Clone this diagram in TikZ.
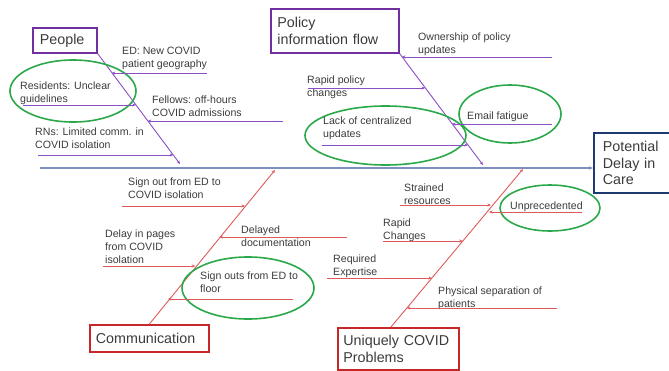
\documentclass[tikz,border=0pt]{standalone}
\usepackage{fontspec}
\setmainfont{Liberation Sans}
\usetikzlibrary{arrows.meta,shapes.geometric}
\definecolor{purp}{HTML}{7030A0}
\definecolor{purpl}{HTML}{8A4FC4}
\definecolor{redb}{HTML}{C62828}
\definecolor{redl}{HTML}{DE5A5A}
\definecolor{navy}{HTML}{1F3A70}
\definecolor{spinec}{HTML}{7F8DC0}
\definecolor{grn}{HTML}{2BA84A}
\definecolor{txt}{HTML}{3B3B3B}
\begin{document}
\begin{tikzpicture}[x=1pt,y=-1pt,
  lbl/.style={font=\fontsize{10.6}{13}\selectfont, text=txt, inner sep=0pt, anchor=north west, align=left},
  tbox/.style={draw, line width=1.8pt, font=\fontsize{14.3}{16.8}\selectfont, text=txt, align=left, anchor=north west, inner ysep=0pt},
  tip/.style={-{Stealth[length=3.5pt,width=3pt]}},
  pline/.style={purpl, line width=0.8pt, tip},
  rline/.style={redl, line width=0.8pt, tip},
  spine/.style={spinec, line width=1.3pt},
  hl/.style={draw=grn, line width=1.6pt, shape=ellipse, inner sep=0pt}]
\useasboundingbox (0,0) rectangle (669,370);
\clip (0,0) rectangle (669,370);

% category boxes
\node[tbox, draw=purp, minimum width=64pt, minimum height=25pt, text width=50pt, inner xsep=7pt] (people) at (32,27) {People};
\node[tbox, draw=purp, minimum width=128pt, minimum height=44pt, text width=115pt, inner xsep=6.5pt] (policy) at (270,8) {Policy\\information flow};
\node[tbox, draw=redb, minimum width=119pt, minimum height=27pt, text width=107pt, inner xsep=6pt] (comm) at (89,324) {Communication};
\node[tbox, draw=redb, minimum width=121pt, minimum height=42pt, text width=110pt, inner xsep=5.5pt] (ucp) at (337,327) {Uniquely COVID\\Problems};
\node[tbox, draw=navy, minimum width=80pt, minimum height=60pt, text width=62pt, inner xsep=9pt] (eff) at (593,132) {Potential\\Delay in\\Care};

% spine
\coordinate (sp0) at (40,168);
\draw[spine, -{Stealth[length=4pt,width=3.5pt]}] (sp0) -- (sp0 -| eff.west);

% main bones
\coordinate (pb1) at (180,164);
\coordinate (qb1) at (483,165);
\coordinate (cb1) at (275,170);
\coordinate (ub0) at (391,327);
\coordinate (ub1) at (523,169);
\draw[pline, line width=0.9pt] (people.south east) -- (pb1);
\draw[pline, line width=0.9pt] (policy.south east) -- (qb1);
\draw[rline, line width=0.9pt] (comm.north) -- (cb1);
\draw[rline, line width=0.9pt] (ub0) -- (ub1);

% highlight ellipses
\node[hl, minimum width=126pt, minimum height=62pt] (e1) at (73,91) {};
\node[hl, minimum width=161pt, minimum height=59pt] (e2) at (385.5,135.5) {};
\node[hl, minimum width=102pt, minimum height=58pt] (e3) at (510,114) {};
\node[hl, minimum width=132pt, minimum height=62pt] (e4) at (248,288) {};
\node[hl, minimum width=100pt, minimum height=46pt] (e5) at (550,208) {};

% labels
\node[lbl] (la) at (122,47) {ED: New COVID\\patient geography};
\node[lbl] (lb) at (20,82) {Residents: Unclear\\guidelines};
\node[lbl] (lc) at (152,96) {Fellows: off-hours\\COVID admissions};
\node[lbl] (ld) at (35,128) {RNs: Limited comm. in\\COVID isolation};
\node[lbl] (le) at (418,33) {Ownership of policy\\updates};
\node[lbl] (lf) at (307,76) {Rapid policy\\changes};
\node[lbl] (lg) at (467,112) {Email fatigue};
\node[lbl] (lh) at (323,117) {Lack of centralized\\updates};
\node[lbl] (li) at (128,178) {Sign out from ED to\\COVID isolation};
\node[lbl] (lj) at (241,226) {Delayed\\documentation};
\node[lbl] (lk) at (105,230) {Delay in pages\\from COVID\\isolation};
\node[lbl] (ll) at (200,272) {Sign outs from ED to\\floor};
\node[lbl] (lm) at (404,184) {Strained\\resources};
\node[lbl] (ln) at (510,202) {Unprecedented};
\node[lbl] (lo) at (383,219) {Rapid\\Changes};
\node[lbl] (lp) at (333,255) {Required\\Expertise};
\node[lbl] (lq) at (438,287) {Physical separation of\\patients};

% sub-bone ends
\coordinate (sa) at (207,73);  \coordinate (ta) at (111.8,73);
\coordinate (sb) at (23,105);  \coordinate (tb) at (135.8,105);
\coordinate (sc) at (283,121); \coordinate (tc) at (147.8,121);
\coordinate (sd) at (38,155);  \coordinate (td) at (173.2,155);
\coordinate (se) at (552,57);  \coordinate (te) at (401.8,57);
\coordinate (sf) at (308,88);  \coordinate (tf) at (425.1,88);
\coordinate (sg) at (552,124); \coordinate (tg) at (452.2,124);
\coordinate (sh) at (322,145); \coordinate (th) at (467.9,145);
\coordinate (si) at (122,206); \coordinate (ti) at (245.1,206);
\coordinate (sj) at (347,237); \coordinate (tj) at (219.4,237);
\coordinate (sk) at (103,266); \coordinate (tk) at (195.3,266);
\coordinate (sl) at (293,299); \coordinate (tl) at (167.9,299);
\coordinate (sm) at (400,205); \coordinate (tm) at (491,205);
\coordinate (sn) at (582,212); \coordinate (tn) at (489,212);
\coordinate (so) at (383,241); \coordinate (to) at (462.8,241);
\coordinate (sp) at (327,278); \coordinate (tp) at (431.9,278);
\coordinate (sq) at (557,308); \coordinate (tq) at (406.9,308);

\foreach \n in {a,b,c,d,e,f,g,h} \draw[pline] (s\n) -- (t\n);
\foreach \n in {i,j,k,l,m,n,o,p,q} \draw[rline] (s\n) -- (t\n);
\end{tikzpicture}
\end{document}
